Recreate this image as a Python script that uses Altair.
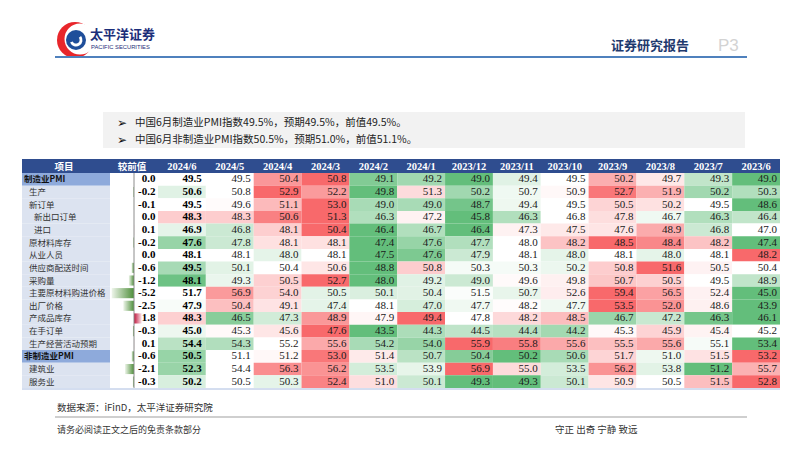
import altair as alt
import pandas as pd

# ---------------- data ----------------
months = ["2024/6", "2024/5", "2024/4", "2024/3", "2024/2", "2024/1", "2023/12",
          "2023/11", "2023/10", "2023/9", "2023/8", "2023/7", "2023/6"]
items = ["制造业PMI", "生产", "新订单", "新出口订单", "进口", "原材料库存", "从业人员",
         "供应商配送时间", "采购量", "主要原材料购进价格", "出厂价格", "产成品库存",
         "在手订单", "生产经营活动预期", "非制造业PMI", "建筑业", "服务业"]
levels = [0, 1, 1, 2, 2, 1, 1, 1, 1, 1, 1, 1, 1, 1, 0, 1, 1]
changes = [0.0, -0.2, -0.1, 0.0, 0.1, -0.2, 0.0, -0.6, -1.2, -5.2, -2.5, 1.8, -0.3, 0.1, -0.6, -2.1, -0.3]

pmi_mfg = [49.5, 49.5, 50.4, 50.8, 49.1, 49.2, 49.0, 49.4, 49.5, 50.2, 49.7, 49.3, 49.0]
production = [50.6, 50.8, 52.9, 52.2, 49.8, 51.3, 50.2, 50.7, 50.9, 52.7, 51.9, 50.2, 50.3]
new_orders = [49.5, 49.6, 51.1, 53.0, 49.0, 49.0, 48.7, 49.4, 49.5, 50.5, 50.2, 49.5, 48.6]
new_export_orders = [48.3, 48.3, 50.6, 51.3, 46.3, 47.2, 45.8, 46.3, 46.8, 47.8, 46.7, 46.3, 46.4]
imports = [46.9, 46.8, 48.1, 50.4, 46.4, 46.7, 46.4, 47.3, 47.5, 47.6, 48.9, 46.8, 47.0]
raw_inventory = [47.6, 47.8, 48.1, 48.1, 47.4, 47.6, 47.7, 48.0, 48.2, 48.5, 48.4, 48.2, 47.4]
employment = [48.1, 48.1, 48.0, 48.1, 47.5, 47.6, 47.9, 48.1, 48.0, 48.1, 48.0, 48.1, 48.2]
delivery_time = [49.5, 50.1, 50.4, 50.6, 48.8, 50.8, 50.3, 50.3, 50.2, 50.8, 51.6, 50.5, 50.4]
purchases = [48.1, 49.3, 50.5, 52.7, 48.0, 49.2, 49.0, 49.6, 49.8, 50.7, 50.5, 49.5, 48.9]
input_prices = [51.7, 56.9, 54.0, 50.5, 50.1, 50.4, 51.5, 50.7, 52.6, 59.4, 56.5, 52.4, 45.0]
output_prices = [47.9, 50.4, 49.1, 47.4, 48.1, 47.0, 47.7, 48.2, 47.7, 53.5, 52.0, 48.6, 43.9]
finished_inventory = [48.3, 46.5, 47.3, 48.9, 47.9, 49.4, 47.8, 48.2, 48.5, 46.7, 47.2, 46.3, 46.1]
backlog = [45.0, 45.3, 45.6, 47.6, 43.5, 44.3, 44.5, 44.4, 44.2, 45.3, 45.9, 45.4, 45.2]
expectations = [54.4, 54.3, 55.2, 55.6, 54.2, 54.0, 55.9, 55.8, 55.6, 55.5, 55.6, 55.1, 53.4]
pmi_nonmfg = [50.5, 51.1, 51.2, 53.0, 51.4, 50.7, 50.4, 50.2, 50.6, 51.7, 51.0, 51.5, 53.2]
construction = [52.3, 54.4, 56.3, 56.2, 53.5, 53.9, 56.9, 55.0, 53.5, 56.2, 53.8, 51.2, 55.7]
services = [50.2, 50.5, 50.3, 52.4, 51.0, 50.1, 49.3, 49.3, 50.1, 50.9, 50.5, 51.5, 52.8]

series = [pmi_mfg, production, new_orders, new_export_orders, imports, raw_inventory,
          employment, delivery_time, purchases, input_prices, output_prices,
          finished_inventory, backlog, expectations, pmi_nonmfg, construction, services]

cells = pd.DataFrame([
    {"item": items[r], "ri": r, "ci": c, "v": v, "label": f"{v:.1f}"}
    for r, vals in enumerate(series) for c, v in enumerate(vals)
])
rows_df = pd.DataFrame({
    "item": items, "ri": list(range(len(items))), "level": levels, "chg": changes,
    "chg_label": [f"{x:.1f}" for x in changes],
    "kind": ["main" if l == 0 else "sub" for l in levels],
})
months_df = pd.DataFrame({"month": months, "ci": list(range(len(months)))})
one = pd.DataFrame({"k": [0]})

# ---------------- styles ----------------
SERIF = "Liberation Serif, Times New Roman, serif"
CJK = "Noto Sans CJK SC, DejaVu Sans, sans-serif"
NAVY = "#2F4D8F"

XM = alt.Scale(domain=[0, 13], range=[150, 772], nice=False, zero=False)
YS = alt.Scale(domain=[0, 17], range=[165, 380], nice=False, zero=False)
XB = alt.Scale(domain=[-5.6, 0], range=[102, 126], nice=False, zero=False)
XL = alt.Scale(domain=[0, 2], range=[16, 26], nice=False, zero=False)


def txt(text, x, y, size, color="#333333", font=CJK, weight="normal", align="left"):
    return alt.Chart(one).mark_text(text=text, align=align, baseline="middle", font=font,
                                    fontSize=size, fontWeight=weight, color=color).encode(
        x=alt.value(x), y=alt.value(y))


def box(x1, x2, y1, y2, color):
    return alt.Chart(one).mark_rect(color=color).encode(
        x=alt.value(x1), x2=alt.value(x2), y=alt.value(y1), y2=alt.value(y2))


def hline(x1, x2, y, color, w):
    return alt.Chart(one).mark_rule(color=color, strokeWidth=w).encode(
        x=alt.value(x1), x2=alt.value(x2), y=alt.value(y))


def disk(cx, cy, r, color, r2=0, t1=0.0, t2=6.2832):
    return alt.Chart(one).mark_arc(color=color, radius=r, radius2=r2, theta=t1, theta2=t2).encode(
        x=alt.value(cx), y=alt.value(cy))


layers = []

# ---------------- page header ----------------
layers += [
    disk(67, 32, 18, "#E8262B"),
    disk(72, 31, 15.5, "#FFFFFF"),
    disk(68, 32, 10, "#1F4E9A"),
    disk(68, 32, 6.5, "#FFFFFF", r2=3.6, t1=0.9, t2=4.3),
    txt("太平洋证券", 82, 27, 13, color="#1C2E7A", weight="bold"),
    txt("PACIFIC SECURITIES", 83, 38.5, 5.8, color="#1C2E7A", font="Liberation Sans"),
    txt("证券研究报告", 603, 38, 13, color="#1F3A6E", weight="bold"),
    txt("P3", 710, 38, 17, color="#D3D3D3", font="Liberation Sans"),
    hline(47, 739, 49, "#4F81BD", 2),
]

# ---------------- summary box ----------------
layers += [
    box(95, 737, 104, 140, "#F2F2F2"),
    txt("➢", 109, 115, 12, color="#111111", font="DejaVu Sans"),
    txt("➢", 109, 132, 12, color="#111111", font="DejaVu Sans"),
    txt("中国6月制造业PMI指数49.5%，预期49.5%，前值49.5%。", 127, 115, 10.5, color="#222222"),
    txt("中国6月非制造业PMI指数50.5%，预期51.0%，前值51.1%。", 127, 132, 10.5, color="#222222"),
]

# ---------------- table header ----------------
layers += [
    box(14, 772, 151, 165, NAVY),
    txt("项目", 56, 158.5, 9.5, color="white", weight="bold", align="center"),
    txt("较前值", 124, 158.5, 9.5, color="white", weight="bold", align="center"),
    alt.Chart(months_df).transform_calculate(cm="datum.ci + 0.5").mark_text(
        font=SERIF, fontWeight="bold", fontSize=10.5, color="white", baseline="middle"
    ).encode(x=alt.X("cm:Q", scale=XM, axis=None), y=alt.value(158.5), text="month:N"),
]

# ---------------- label column ----------------
rows_base = alt.Chart(rows_df).transform_calculate(
    ri2="datum.ri + 1", rm="datum.ri + 0.5", b1="datum.ri + 0.1", b2="datum.ri + 0.9", z="0")

layers.append(rows_base.mark_rect().encode(
    x=alt.value(14), x2=alt.value(102),
    y=alt.Y("ri:Q", scale=YS, axis=None), y2=alt.Y2("ri2"),
    color=alt.Color("kind:N", scale=alt.Scale(domain=["main", "sub"], range=["#8EAADB", "#DCE3F0"]),
                    legend=None)))
for kind, weight, color in [("main", "bold", "#111111"), ("sub", "normal", "#333333")]:
    layers.append(rows_base.transform_filter(f"datum.kind == '{kind}'").mark_text(
        align="left", baseline="middle", font=CJK, fontSize=8.5, fontWeight=weight, color=color
    ).encode(x=alt.X("level:Q", scale=XL, axis=None), y=alt.Y("rm:Q", scale=YS, axis=None),
             text="item:N"))

# ---------------- change column with data bars ----------------
grad_green = {"gradient": "linear", "x1": 0, "x2": 1, "y1": 0, "y2": 0,
              "stops": [{"offset": 0, "color": "#EEF5EA"}, {"offset": 1, "color": "#4E8E3A"}]}
grad_red = {"gradient": "linear", "x1": 0, "x2": 1, "y1": 0, "y2": 0,
            "stops": [{"offset": 0, "color": "#C0143C"}, {"offset": 1, "color": "#FBE6EA"}]}
layers.append(rows_base.transform_filter("datum.chg < 0").mark_rect(color=grad_green).encode(
    x=alt.X("chg:Q", scale=XB, axis=None), x2=alt.X2("z"),
    y=alt.Y("b1:Q", scale=YS, axis=None), y2=alt.Y2("b2")))
layers.append(rows_base.transform_filter("datum.chg > 0").mark_rect(color=grad_red).encode(
    x=alt.X("chg:Q", scale=XB, axis=None), x2=alt.X2("z"),
    y=alt.Y("b1:Q", scale=YS, axis=None), y2=alt.Y2("b2")))
layers.append(alt.Chart(one).mark_rule(color="#8C8C8C", strokeWidth=1).encode(
    x=alt.value(126), y=alt.value(165), y2=alt.value(380)))
layers.append(rows_base.mark_text(
    align="right", baseline="middle", font=SERIF, fontSize=11, fontWeight="bold", color="#000000"
).encode(x=alt.value(147.5), y=alt.Y("rm:Q", scale=YS, axis=None), text="chg_label:N"))

# ---------------- heatmap cells ----------------
base_cells = alt.Chart(cells).transform_joinaggregate(
    lo="min(v)", hi="max(v)", med="median(v)", groupby=["item"]
).transform_calculate(
    t="datum.v < datum.med ? (datum.v - datum.med) / (datum.med - datum.lo) : "
      "(datum.v > datum.med ? (datum.v - datum.med) / (datum.hi - datum.med) : 0)",
    ci2="datum.ci + 1", ri2="datum.ri + 1", rm="datum.ri + 0.5")

layers.append(base_cells.mark_rect().encode(
    x=alt.X("ci:Q", scale=XM, axis=None), x2=alt.X2("ci2"),
    y=alt.Y("ri:Q", scale=YS, axis=None), y2=alt.Y2("ri2"),
    color=alt.Color("t:Q", scale=alt.Scale(domain=[-1, 0, 1], range=["#63BE7B", "#FFFFFF", "#F8696B"],
                                           interpolate="rgb"), legend=None)))
layers.append(base_cells.transform_filter("datum.ci == 0").mark_text(
    align="right", baseline="middle", dx=-4, font=SERIF, fontSize=11, fontWeight="bold", color="#000000"
).encode(x=alt.X("ci2:Q", scale=XM, axis=None), y=alt.Y("rm:Q", scale=YS, axis=None), text="label:N"))
layers.append(base_cells.transform_filter("datum.ci > 0").mark_text(
    align="right", baseline="middle", dx=-3, font=SERIF, fontSize=11, color="#1A1A1A"
).encode(x=alt.X("ci2:Q", scale=XM, axis=None), y=alt.Y("rm:Q", scale=YS, axis=None), text="label:N"))
layers.append(hline(14, 772, 381, "#A9BCE0", 1))

# ---------------- footer ----------------
layers += [
    txt("数据来源：iFinD，太平洋证券研究院", 49, 400, 9.5, color="#333333"),
    hline(47, 739, 409, "#BFBFBF", 1.5),
    txt("请务必阅读正文之后的免责条款部分", 49, 422, 9, color="#333333"),
    txt("守正 出奇 宁静 致远", 547, 422, 9.5, color="#333333"),
]

chart = alt.layer(*layers).properties(
    width=786, height=435, autosize=alt.AutoSizeParams(type="none"), padding=0
).resolve_scale(x="independent", color="independent").configure_view(stroke=None)

chart.save("out.html", embed_options={"renderer": "svg", "actions": False})
